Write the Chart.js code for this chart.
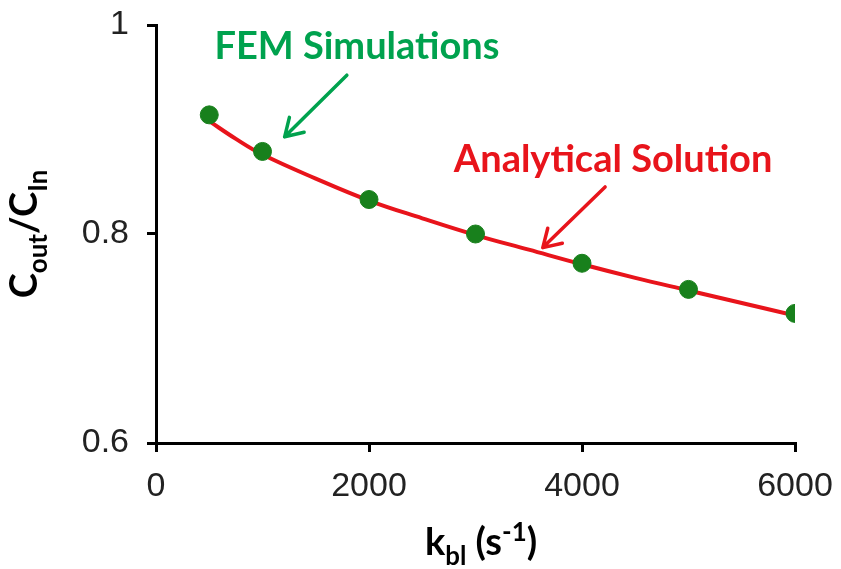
<!DOCTYPE html>
<html>
<head>
<meta charset="utf-8">
<script src="https://cdn.jsdelivr.net/npm/chart.js@4/dist/chart.umd.min.js"></script>
<style>
  body { margin: 0; background: #fff; }
  #wrap { width: 841px; height: 569px; position: relative; }
</style>
</head>
<body>
<div id="wrap"><canvas id="fitChart"></canvas></div>
<script>
// FEM simulation points
const kbl = [500, 1000, 2000, 3000, 4000, 5000, 6000];
const femRatio = [0.914, 0.879, 0.833, 0.800, 0.772, 0.747, 0.724];

// analytical curve
const curveK = [500, 750, 1000, 1500, 2000, 2500, 3000, 3500, 4000, 4500, 5000, 5500, 6000];
const curveRatio = [0.908, 0.891, 0.876, 0.853, 0.832, 0.815, 0.799, 0.785, 0.771, 0.758, 0.746, 0.734, 0.722];

const xTicks = [0, 2000, 4000, 6000];
const yTicks = [0.6, 0.8, 1];

const green = "#00a24e";
const dotGreen = "#18801c";
const red = "#e8141b";
const boldFont = "Lato, 'Open Sans', sans-serif";

// text with sub/superscripts, drawn centred at x,y (baseline)
function richText(ctx, parts, x, y, size) {
  const fontFor = (p) => "bold " + (p.sub || p.sup ? size * 0.68 : size) + "px " + boldFont;
  const widths = parts.map((p) => {
    ctx.font = fontFor(p);
    return ctx.measureText(p.t).width;
  });
  let cx = x - widths.reduce((a, b) => a + b, 0) / 2;
  ctx.textAlign = "left";
  ctx.textBaseline = "alphabetic";
  parts.forEach((p, i) => {
    ctx.font = fontFor(p);
    let dy = 0;
    if (p.sub) dy = size * 0.25;
    if (p.sup) dy = -size * 0.38;
    ctx.fillText(p.t, cx, y + dy);
    cx += widths[i];
  });
}

function arrow(ctx, x1, y1, x2, y2, color) {
  const ang = Math.atan2(y2 - y1, x2 - x1);
  const head = 20;
  ctx.strokeStyle = color;
  ctx.lineWidth = 3.5;
  ctx.lineCap = "round";
  ctx.lineJoin = "round";
  ctx.beginPath();
  ctx.moveTo(x1, y1);
  ctx.lineTo(x2, y2);
  ctx.moveTo(x2 - head * Math.cos(ang - 0.55), y2 - head * Math.sin(ang - 0.55));
  ctx.lineTo(x2, y2);
  ctx.lineTo(x2 - head * Math.cos(ang + 0.55), y2 - head * Math.sin(ang + 0.55));
  ctx.stroke();
}

const labelsPlugin = {
  id: "labels",
  afterDraw(chart) {
    const { ctx, scales } = chart;
    const xs = scales.x, ys = scales.y;
    ctx.save();
    ctx.fillStyle = "#000";
    // x axis title
    richText(ctx, [{ t: "k" }, { t: "bl", sub: true }, { t: " (s" }, { t: "-1", sup: true }, { t: ")" }],
      481, 555, 38);
    // y axis title
    ctx.save();
    ctx.translate(37, 234);
    ctx.rotate(-Math.PI / 2);
    richText(ctx, [{ t: "C" }, { t: "out", sub: true }, { t: "/C" }, { t: "In", sub: true }], 0, 0, 38);
    ctx.restore();

    // annotations placed in data units
    ctx.fillStyle = green;
    richText(ctx, [{ t: "FEM Simulations" }], xs.getPixelForValue(1887), ys.getPixelForValue(0.967), 38);
    arrow(ctx, xs.getPixelForValue(1792), ys.getPixelForValue(0.952),
      xs.getPixelForValue(1208), ys.getPixelForValue(0.893), green);

    ctx.fillStyle = red;
    richText(ctx, [{ t: "Analytical Solution" }], xs.getPixelForValue(4292), ys.getPixelForValue(0.859), 38);
    arrow(ctx, xs.getPixelForValue(4217), ys.getPixelForValue(0.845),
      xs.getPixelForValue(3632), ys.getPixelForValue(0.787), red);
    ctx.restore();
  },
};

const ctx = document.getElementById("fitChart").getContext("2d");
const fitChart = new Chart(ctx, {
  type: "scatter",
  data: {
    datasets: [
      {
        label: "FEM Simulations",
        data: kbl.map((k, i) => ({ x: k, y: femRatio[i] })),
        backgroundColor: dotGreen,
        borderColor: dotGreen,
        pointRadius: 9,
        order: 0,
      },
      {
        label: "Analytical Solution",
        data: curveK.map((k, i) => ({ x: k, y: curveRatio[i] })),
        showLine: true,
        borderColor: red,
        borderWidth: 4,
        pointRadius: 0,
        tension: 0.4,
        order: 1,
      },
    ],
  },
  options: {
    responsive: true,
    maintainAspectRatio: false,
    animation: false,
    layout: { padding: { top: 25, right: 46, left: 0, bottom: 0 } },
    plugins: {
      legend: { display: false },
      tooltip: { enabled: false },
    },
    scales: {
      x: {
        type: "linear",
        min: 0,
        max: 6000,
        afterBuildTicks: (s) => { s.ticks = xTicks.map((v) => ({ value: v })); },
        afterFit: (s) => { s.height = 126; s.paddingLeft = 0; s.paddingRight = 0; },
        border: { color: "#000", width: 3 },
        grid: { drawOnChartArea: false, tickLength: 9, tickColor: "#000", lineWidth: 3 },
        ticks: {
          color: "#222",
          font: { family: "'Liberation Sans', Arial, sans-serif", size: 34 },
          padding: 14,
          maxRotation: 0,
          callback: (v) => String(v),
        },
      },
      y: {
        min: 0.6,
        max: 1,
        afterBuildTicks: (s) => { s.ticks = yTicks.map((v) => ({ value: v })); },
        afterFit: (s) => { s.width = 156; s.paddingTop = 0; s.paddingBottom = 0; },
        border: { color: "#000", width: 3 },
        grid: { drawOnChartArea: false, tickLength: 9, tickColor: "#000", lineWidth: 3 },
        ticks: {
          color: "#222",
          font: { family: "'Liberation Sans', Arial, sans-serif", size: 34 },
          padding: 18,
          callback: (v) => (v === 1 ? "1" : v.toFixed(1)),
        },
      },
    },
  },
  plugins: [labelsPlugin],
});
</script>
</body>
</html>
